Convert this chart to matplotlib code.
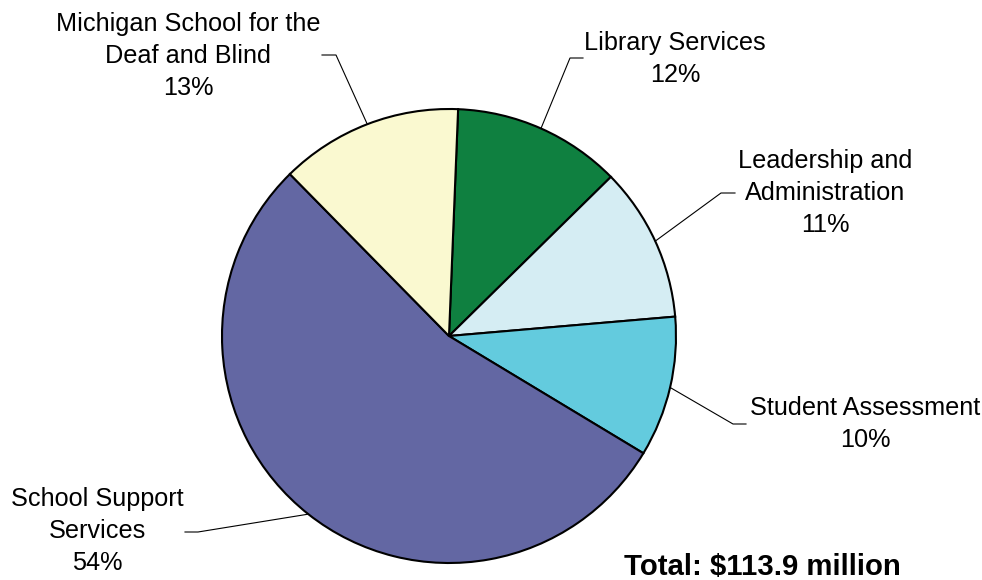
import numpy as np
import matplotlib
matplotlib.use('Agg')
import matplotlib.pyplot as plt

plt.rcParams['font.family'] = ['Liberation Sans', 'DejaVu Sans']

labels = ["Library Services", "Leadership and\nAdministration", "Student Assessment",
          "School Support\nServices", "Michigan School for the\nDeaf and Blind"]
shares = [12, 11, 10, 54, 13]
colors = ["#0F8040", "#D5EDF3", "#63CBDE", "#6367A3", "#FAF9D0"]
total_label = "Total: $113.9 million"

# label text anchor, leader elbow (pixel coords, y measured from top)
text_pos = [(675, 59), (825, 193), (865, 424), (97, 531), (188, 56)]
elbow = [(570, 58), (721, 193), (733, 424), (198, 532), (336, 55)]
tail = [(583, 58), (735, 193), (746, 424), (185, 532), (322, 55)]

W, H = 982, 580
cx, cy, r = 449, 336, 227
start = 87.7

fig = plt.figure(figsize=(W / 100, H / 100), dpi=100)
ax = fig.add_axes([0, 0, 1, 1])

ax.pie(shares, colors=colors, startangle=start, counterclock=False,
       center=(cx, H - cy), radius=r,
       wedgeprops=dict(edgecolor="black", linewidth=1.5))

ang = start
for i, s in enumerate(shares):
    mid = np.deg2rad(ang - s * 3.6 / 2)
    ang -= s * 3.6
    px, py = cx + r * np.cos(mid), (H - cy) + r * np.sin(mid)
    xs = [px, elbow[i][0], tail[i][0]]
    ys = [py, H - elbow[i][1], H - tail[i][1]]
    ax.plot(xs, ys, color="black", linewidth=0.8)
    ax.text(text_pos[i][0], H - text_pos[i][1], f"{labels[i]}\n{s}%",
            ha="center", va="center", fontsize=18.2, linespacing=1.42)

ax.text(624, H - 567, total_label, ha="left", va="center",
        fontsize=21.2, fontweight="bold")

ax.set_xlim(0, W)
ax.set_ylim(0, H)
ax.set_aspect("equal")
ax.axis("off")

fig.savefig("out.png", dpi=100)
plt.close(fig)
